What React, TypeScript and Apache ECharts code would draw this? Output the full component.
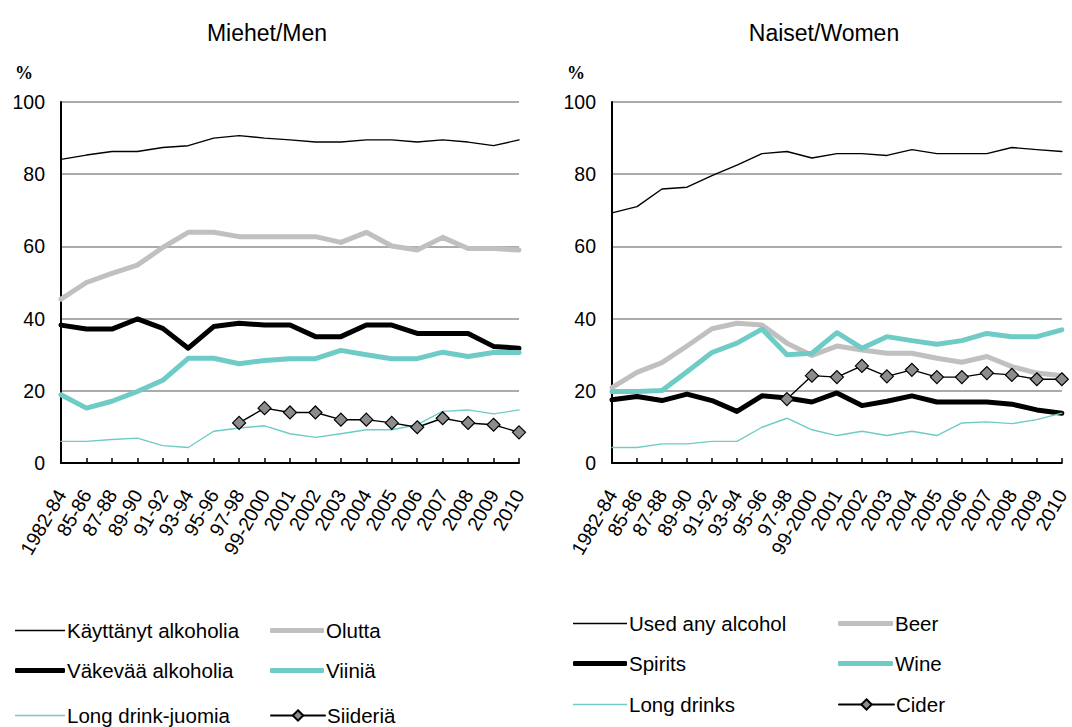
import React, { useEffect, useRef } from "react";
import * as echarts from "echarts";

const categories = ["1982-84", "85-86", "87-88", "89-90", "91-92", "93-94", "95-96", "97-98", "99-2000", "2001", "2002", "2003", "2004", "2005", "2006", "2007", "2008", "2009", "2010"];

// Men
const menAny = [84.1, 85.3, 86.3, 86.3, 87.4, 87.9, 90.0, 90.7, 90.0, 89.5, 88.9, 88.9, 89.5, 89.5, 88.9, 89.5, 88.9, 87.9, 89.5];
const menBeer = [45.4, 50.0, 52.5, 54.8, 59.7, 63.9, 63.9, 62.7, 62.7, 62.7, 62.7, 61.1, 63.9, 60.1, 59.0, 62.5, 59.4, 59.4, 59.0];
const menSpirits = [38.2, 37.1, 37.1, 39.9, 37.3, 31.8, 37.8, 38.7, 38.2, 38.2, 35.0, 35.0, 38.2, 38.2, 35.9, 35.9, 35.9, 32.3, 31.8];
const menWine = [18.9, 15.2, 17.1, 19.8, 22.9, 29.0, 29.0, 27.5, 28.4, 28.9, 28.9, 31.2, 30.0, 28.9, 28.9, 30.7, 29.5, 30.6, 30.6];
const menLong = [6.0, 6.0, 6.5, 6.9, 4.8, 4.3, 8.8, 9.7, 10.3, 8.1, 7.1, 8.1, 9.2, 9.2, 10.6, 14.3, 14.7, 13.6, 14.7];
const menCider = [null, null, null, null, null, null, null, 11.1, 15.2, 14.0, 14.0, 12.0, 12.0, 11.1, 9.9, 12.4, 11.1, 10.6, 8.5];

// Women
const womenAny = [69.3, 71.0, 75.9, 76.4, 79.6, 82.5, 85.7, 86.3, 84.5, 85.7, 85.7, 85.2, 86.8, 85.7, 85.7, 85.7, 87.4, 86.8, 86.3];
const womenBeer = [20.9, 25.1, 27.8, 32.4, 37.2, 38.7, 38.2, 33.2, 29.8, 32.4, 31.3, 30.4, 30.4, 29.0, 27.9, 29.5, 26.7, 24.9, 24.2];
const womenWine = [19.8, 19.8, 20.1, 25.3, 30.6, 33.2, 37.1, 30.0, 30.4, 36.1, 31.8, 35.0, 33.9, 32.9, 33.9, 35.9, 35.0, 35.0, 36.9];
const womenSpirits = [17.5, 18.4, 17.3, 19.1, 17.3, 14.3, 18.6, 18.0, 16.9, 19.4, 15.9, 17.1, 18.6, 16.9, 16.9, 16.9, 16.3, 14.7, 13.8];
const womenLong = [4.3, 4.3, 5.3, 5.3, 6.0, 6.0, 9.9, 12.4, 9.2, 7.6, 8.8, 7.6, 8.8, 7.6, 11.1, 11.4, 10.9, 12.0, 13.8];
const womenCider = [null, null, null, null, null, null, null, 17.7, 24.2, 23.8, 26.9, 24.0, 25.8, 23.8, 23.8, 24.9, 24.4, 23.2, 23.2];

const menNames = ["Käyttänyt alkoholia", "Olutta", "Väkevää alkoholia", "Viiniä", "Long drink-juomia", "Siideriä"];
const womenNames = ["Used any alcohol", "Beer", "Spirits", "Wine", "Long drinks", "Cider"];

const FONT = "Liberation Sans, Arial, sans-serif";
const TEAL = "#6ecbc6";
const GRAY = "#c0c0c0";
const FS = 19.5;
const LFS = 20.5;

const STYLES = [
  { color: "#000000", width: 1.4 },
  { color: GRAY, width: 5 },
  { color: "#000000", width: 5 },
  { color: TEAL, width: 5 },
  { color: TEAL, width: 1.4 },
  { color: "#000000", width: 1.4 },
];

function seriesFor(idx: number, names: string[], data: (number | null)[][]) {
  return names.map((name, i) => {
    const isCider = i === 5;
    return {
      type: "line",
      name,
      xAxisIndex: idx,
      yAxisIndex: idx,
      data: data[i],
      symbol: isCider ? "diamond" : "none",
      symbolSize: isCider ? 13 : 0,
      showSymbol: isCider,
      connectNulls: false,
      lineStyle: { color: STYLES[i].color, width: STYLES[i].width, cap: "round", join: "round" },
      itemStyle: isCider
        ? { color: "#8c8c8c", borderColor: "#000000", borderWidth: 1.2 }
        : { color: STYLES[i].color },
      z: 2 + i,
    };
  });
}

function xAxisFor(idx: number) {
  return {
    type: "category",
    gridIndex: idx,
    data: categories,
    boundaryGap: false,
    axisLine: { show: true, onZero: false, lineStyle: { color: "#000", width: 2 } },
    axisTick: { show: true, inside: true, length: 5, alignWithLabel: true, lineStyle: { color: "#000", width: 1.5 } },
    axisLabel: { interval: 0, rotate: 60, margin: 28, fontSize: FS, color: "#000", fontFamily: FONT },
    splitLine: { show: false },
  };
}

function yAxisFor(idx: number) {
  return {
    type: "value",
    gridIndex: idx,
    min: 0,
    max: 100,
    interval: 20,
    axisLine: { show: true, lineStyle: { color: "#000", width: 2 } },
    axisTick: { show: false },
    axisLabel: { fontSize: FS, color: "#000", margin: 16, fontFamily: FONT },
    splitLine: { show: true, lineStyle: { color: "#8f8f8f", width: 1.5 } },
  };
}

function legendsFor(names: string[], pos: { x: number; y: number; w: number }[]) {
  return names.map((n, i) => {
    const isCider = i === 5;
    const thick = STYLES[i].width > 3;
    return {
      data: [isCider ? { name: n } : { name: n, icon: thick ? "roundRect" : "rect" }],
      left: pos[i].x,
      top: pos[i].y - 12,
      itemWidth: pos[i].w,
      itemHeight: isCider ? 13 : STYLES[i].width,
      padding: 0,
      selectedMode: false,
      textStyle: { fontSize: LFS, color: "#000", fontFamily: FONT, padding: [0, 0, 0, -3] },
    };
  });
}

export default function App() {
  const ref = useRef<HTMLDivElement>(null);
  useEffect(() => {
    document.body.style.margin = "0";
    const chart = echarts.init(ref.current!, undefined, { renderer: "svg" });
    const option = {
      animation: false,
      backgroundColor: "#ffffff",
      textStyle: { fontFamily: FONT },
      title: [
        { text: "Miehet/Men", left: 262, top: 16, textAlign: "center", textStyle: { fontSize: 23, fontWeight: "normal", color: "#000", fontFamily: FONT } },
        { text: "Naiset/Women", left: 819, top: 16, textAlign: "center", textStyle: { fontSize: 23, fontWeight: "normal", color: "#000", fontFamily: FONT } },
        { text: "%", left: 10, top: 59, textStyle: { fontSize: 18, fontWeight: "bold", color: "#000", fontFamily: "Liberation Serif, Times New Roman, serif" } },
        { text: "%", left: 562, top: 59, textStyle: { fontSize: 18, fontWeight: "bold", color: "#000", fontFamily: "Liberation Serif, Times New Roman, serif" } },
      ],
      grid: [
        { left: 61, right: 553, top: 102, bottom: 264, containLabel: false },
        { left: 612, right: 2, top: 102, bottom: 264, containLabel: false },
      ],
      xAxis: [xAxisFor(0), xAxisFor(1)],
      yAxis: [yAxisFor(0), yAxisFor(1)],
      legend: [
        ...legendsFor(menNames, [
          { x: 15, y: 632, w: 50 }, { x: 270, y: 632, w: 54 },
          { x: 15, y: 672, w: 50 }, { x: 270, y: 672, w: 54 },
          { x: 15, y: 717, w: 50 }, { x: 270, y: 717, w: 54 },
        ]),
        ...legendsFor(womenNames, [
          { x: 573, y: 625, w: 54 }, { x: 838, y: 625, w: 55 },
          { x: 573, y: 665, w: 54 }, { x: 838, y: 665, w: 55 },
          { x: 573, y: 706, w: 54 }, { x: 838, y: 706, w: 55 },
        ]),
      ],
      series: [
        ...seriesFor(0, menNames, [menAny, menBeer, menSpirits, menWine, menLong, menCider]),
        ...seriesFor(1, womenNames, [womenAny, womenBeer, womenSpirits, womenWine, womenLong, womenCider]),
      ],
    };
    chart.setOption(option as any);
    return () => chart.dispose();
  }, []);
  return <div ref={ref} style={{ position: "absolute", left: 0, top: 0, width: 1072, height: 727 }} />;
}
